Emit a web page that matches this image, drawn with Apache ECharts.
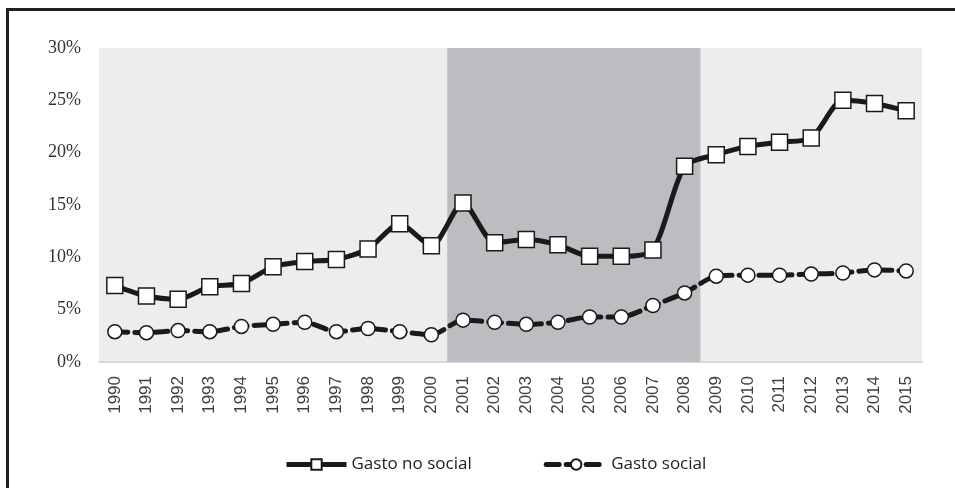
<!DOCTYPE html>
<html>
<head>
<meta charset="utf-8">
<script src="https://cdn.jsdelivr.net/npm/echarts@6/dist/echarts.min.js"></script>
<style>
html,body{margin:0;padding:0;background:#fff;}
#c{width:955px;height:488px;}
</style>
</head>
<body>
<div id="c"></div>
<script>
var years = ['1990','1991','1992','1993','1994','1995','1996','1997','1998','1999','2000','2001','2002','2003','2004','2005','2006','2007','2008','2009','2010','2011','2012','2013','2014','2015'];
var gastoNoSocial = [7.3,6.3,6.0,7.2,7.5,9.1,9.6,9.8,10.8,13.2,11.1,15.2,11.4,11.7,11.2,10.1,10.1,10.7,18.7,19.8,20.6,21.0,21.4,25.0,24.7,24.0];
var gastoSocial = [2.9,2.8,3.0,2.9,3.4,3.6,3.8,2.9,3.2,2.9,2.6,4.0,3.8,3.6,3.8,4.3,4.3,5.4,6.6,8.2,8.3,8.3,8.4,8.5,8.8,8.7];
var shadedStart = '2001', shadedEnd = '2008';
var yTicks = [0,5,10,15,20,25,30];

var s0 = years.indexOf(shadedStart), s1 = years.indexOf(shadedEnd);
var yMax = yTicks[yTicks.length-1];

var chart = echarts.init(document.getElementById('c'));
chart.setOption({
  animation:false,
  backgroundColor:'#fff',
  grid:{left:99,right:33,top:48,bottom:126,show:true,backgroundColor:'#ededed',borderWidth:0},
  xAxis:{type:'category',data:years,boundaryGap:true,
    axisLine:{show:true,lineStyle:{color:'#d9d9d9',width:2}},
    axisTick:{show:false},
    axisLabel:{rotate:90,fontFamily:'Liberation Sans',fontSize:17,color:'#404040',margin:14,interval:0},
    splitLine:{show:false}},
  yAxis:{type:'value',min:yTicks[0],max:yMax,interval:5,
    axisLine:{show:false},axisTick:{show:false},splitLine:{show:false},
    axisLabel:{formatter:'{value}%',fontFamily:'Liberation Serif',fontSize:18,color:'#333',margin:18}},
  legend:{data:['Gasto no social','Gasto social'],left:279,top:451,itemWidth:60,itemHeight:13,itemGap:72,
    lineStyle:{width:5},
    textStyle:{fontFamily:'Open Sans',fontSize:17,color:'#222'}},
  graphic:[
    {type:'line',shape:{x1:7.5,y1:9,x2:7.5,y2:488},style:{stroke:'#231f20',lineWidth:3},z:100},
    {type:'line',shape:{x1:6,y1:9.5,x2:955,y2:9.5},style:{stroke:'#231f20',lineWidth:3},z:100}
  ],
  series:[
    {name:'band',type:'custom',data:[[s0,s1,yMax]],silent:true,z:1,
      renderItem:function(params,api){
        var a=api.value(0), b=api.value(1), top=api.value(2);
        var w=api.size([1,0])[0];
        var p0=api.coord([a,top]), p1=api.coord([b,0]);
        return {type:'rect',shape:{x:p0[0]-w/2,y:p0[1],width:p1[0]-p0[0]+w,height:p1[1]-p0[1]},
          style:{fill:'#bcbdc0'}};
      }},
    {name:'Gasto no social',type:'line',data:gastoNoSocial,smooth:0.25,symbol:'rect',symbolSize:16,
      lineStyle:{color:'#1a1a1a',width:5},itemStyle:{color:'#fff',borderColor:'#1a1a1a',borderWidth:1.5},z:3},
    {name:'Gasto social',type:'line',data:gastoSocial,smooth:0.25,symbol:'circle',symbolSize:14,
      lineStyle:{color:'#1a1a1a',width:5,type:[13,7],cap:'round'},itemStyle:{color:'#fff',borderColor:'#1a1a1a',borderWidth:1.5},z:3}
  ]
});
</script>
</body>
</html>
